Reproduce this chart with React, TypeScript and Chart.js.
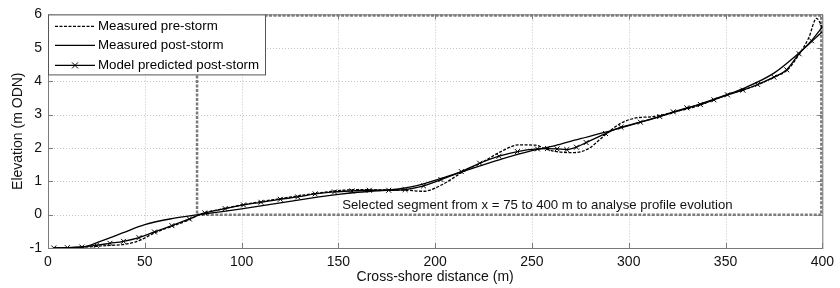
import React, { useEffect, useRef } from "react";
import { Chart, registerables } from "chart.js";

Chart.register(...registerables);

const seriesLabels = ["Measured pre-storm", "Measured post-storm", "Model predicted post-storm"];

const preX = [3, 15, 25, 32, 38.5, 47, 55, 64, 73, 78, 90, 100, 110, 120, 130, 140, 150, 160, 170, 185, 194, 204, 214, 224.6, 235, 243, 252, 257, 265, 272, 279, 288, 296, 303, 313, 323.6, 334, 344, 351, 359, 367, 375, 382, 388, 393, 397, 400];
const preY = [-1.0, -0.99, -0.95, -0.92, -0.9, -0.78, -0.55, -0.35, -0.15, 0.0, 0.17, 0.29, 0.39, 0.48, 0.57, 0.65, 0.72, 0.75, 0.74, 0.73, 0.70, 0.91, 1.27, 1.58, 1.92, 2.09, 2.08, 1.97, 1.87, 1.86, 1.97, 2.4, 2.74, 2.89, 2.94, 3.08, 3.23, 3.44, 3.59, 3.73, 3.90, 4.12, 4.34, 4.8, 5.3, 5.88, 5.62];

const postX = [3, 18, 27, 38.5, 50, 64, 78, 90, 100, 110, 120, 130, 140, 150, 160, 170, 180, 190, 204, 220, 235, 250, 262, 272, 288, 300, 313, 334, 350, 360, 375, 388.5, 400];
const postY = [-1.0, -0.97, -0.8, -0.55, -0.30, -0.12, 0.0, 0.09, 0.17, 0.26, 0.35, 0.44, 0.53, 0.61, 0.67, 0.71, 0.76, 0.86, 1.10, 1.40, 1.68, 1.92, 2.07, 2.23, 2.47, 2.67, 2.89, 3.26, 3.58, 3.8, 4.24, 4.87, 5.48];

const modelX = [3, 10, 17.5, 25, 32, 39, 47, 55, 64, 73, 81, 91.5, 101, 110, 120, 129, 138, 148, 157, 166, 176, 184.5, 194, 203, 213.5, 223, 233, 242.5, 252.8, 258, 263, 268, 273, 278, 288, 296, 306, 316, 323, 330, 337, 344, 351, 359, 366.6, 375, 381.6, 388, 394.4, 400];
const modelY = [-1.0, -0.99, -0.97, -0.92, -0.86, -0.80, -0.69, -0.52, -0.33, -0.13, 0.05, 0.18, 0.29, 0.37, 0.46, 0.53, 0.62, 0.68, 0.71, 0.73, 0.73, 0.75, 0.86, 1.05, 1.29, 1.54, 1.75, 1.89, 1.97, 1.98, 1.97, 1.95, 2.02, 2.16, 2.43, 2.62, 2.77, 2.94, 3.08, 3.2, 3.30, 3.44, 3.59, 3.73, 3.90, 4.12, 4.34, 4.82, 5.21, 5.62];

const xTicks = [0, 50, 100, 150, 200, 250, 300, 350, 400];
const yTicks = [-1, 0, 1, 2, 3, 4, 5, 6];

const segmentBox = { x0: 77, x1: 400, y0: 0, y1: 6 };
const segmentText = "Selected segment from x = 75 to 400 m to analyse profile evolution";
const segmentTextPos = { x: 152, y: 0.27 };

const FONT = "Liberation Sans, Arial, sans-serif";

const toPts = (xs: number[], ys: number[]) => xs.map((x, i) => ({ x, y: ys[i] }));

export default function App() {
  const ref = useRef<HTMLCanvasElement | null>(null);
  useEffect(() => {
    document.body.style.margin = "0";
    const canvas = ref.current;
    if (!canvas) return;

    const decor = {
      id: "decor",
      beforeDatasetsDraw(chart: any) {
        const { ctx, chartArea: a, scales } = chart;
        const xs = scales.x, ys = scales.y;
        ctx.save();
        ctx.strokeStyle = "#c4c4c4";
        ctx.lineWidth = 1;
        ctx.setLineDash([1, 2]);
        xTicks.forEach((t) => {
          const px = Math.round(xs.getPixelForValue(t)) + 0.5;
          ctx.beginPath(); ctx.moveTo(px, a.top); ctx.lineTo(px, a.bottom); ctx.stroke();
        });
        yTicks.forEach((t) => {
          const py = Math.round(ys.getPixelForValue(t)) + 0.5;
          ctx.beginPath(); ctx.moveTo(a.left, py); ctx.lineTo(a.right, py); ctx.stroke();
        });
        ctx.setLineDash([]);
        ctx.strokeStyle = "#7a7a7a";
        ctx.lineWidth = 1;
        ctx.strokeRect(a.left + 0.5, a.top + 0.5, a.right - a.left, a.bottom - a.top);
        xTicks.forEach((t) => {
          const px = Math.round(xs.getPixelForValue(t)) + 0.5;
          ctx.beginPath(); ctx.moveTo(px, a.bottom); ctx.lineTo(px, a.bottom - 5); ctx.stroke();
          ctx.beginPath(); ctx.moveTo(px, a.top); ctx.lineTo(px, a.top + 5); ctx.stroke();
        });
        yTicks.forEach((t) => {
          const py = Math.round(ys.getPixelForValue(t)) + 0.5;
          ctx.beginPath(); ctx.moveTo(a.left, py); ctx.lineTo(a.left + 5, py); ctx.stroke();
          ctx.beginPath(); ctx.moveTo(a.right, py); ctx.lineTo(a.right - 5, py); ctx.stroke();
        });
        ctx.strokeStyle = "#7c7c7c";
        ctx.lineWidth = 2.5;
        ctx.setLineDash([3, 1.5]);
        const rx0 = xs.getPixelForValue(segmentBox.x0);
        const rx1 = xs.getPixelForValue(segmentBox.x1) - 1;
        const ry0 = ys.getPixelForValue(segmentBox.y1) + 1;
        const ry1 = ys.getPixelForValue(segmentBox.y0);
        ctx.strokeRect(rx0, ry0, rx1 - rx0, ry1 - ry0);
        ctx.setLineDash([]);
        ctx.fillStyle = "#111";
        ctx.font = `13.2px ${FONT}`;
        ctx.textBaseline = "middle";
        ctx.textAlign = "left";
        ctx.fillText(segmentText, xs.getPixelForValue(segmentTextPos.x), ys.getPixelForValue(segmentTextPos.y));
        ctx.restore();
      },
      afterDraw(chart: any) {
        const { ctx, chartArea: a } = chart;
        ctx.save();
        const lx = a.left, ly = a.top, lw = 217, lh = 60;
        ctx.fillStyle = "#fff";
        ctx.fillRect(lx, ly, lw, lh);
        ctx.strokeStyle = "#555";
        ctx.lineWidth = 1;
        ctx.strokeRect(lx + 0.5, ly + 0.5, lw, lh);
        ctx.font = `13.3px ${FONT}`;
        ctx.textBaseline = "middle";
        ctx.fillStyle = "#000";
        const rows = [ly + 12, ly + 31, ly + 51];
        rows.forEach((ry, i) => {
          ctx.strokeStyle = "#000";
          ctx.lineWidth = 1.2;
          ctx.setLineDash(i === 0 ? [3, 1.5] : []);
          ctx.beginPath(); ctx.moveTo(lx + 7, ry); ctx.lineTo(lx + 47, ry); ctx.stroke();
          ctx.setLineDash([]);
          if (i === 2) {
            const cx = lx + 27, r = 3;
            ctx.lineWidth = 1;
            ctx.beginPath();
            ctx.moveTo(cx - r, ry - r); ctx.lineTo(cx + r, ry + r);
            ctx.moveTo(cx - r, ry + r); ctx.lineTo(cx + r, ry - r);
            ctx.stroke();
          }
          ctx.fillText(seriesLabels[i], lx + 50, ry);
        });
        ctx.restore();
      },
    };

    const chart = new Chart(canvas, {
      type: "line",
      data: {
        datasets: [
          {
            label: seriesLabels[0],
            data: toPts(preX, preY),
            borderColor: "#000",
            borderWidth: 1.3,
            borderDash: [3, 1.5],
            pointRadius: 0,
            cubicInterpolationMode: "monotone",
          },
          {
            label: seriesLabels[1],
            data: toPts(postX, postY),
            borderColor: "#000",
            borderWidth: 1.3,
            pointRadius: 0,
            cubicInterpolationMode: "monotone",
          },
          {
            label: seriesLabels[2],
            data: toPts(modelX, modelY),
            borderColor: "#000",
            borderWidth: 1.3,
            pointRadius: 3.5,
            pointStyle: "crossRot",
            pointBorderColor: "#000",
            pointBorderWidth: 1,
            cubicInterpolationMode: "monotone",
          },
        ],
      },
      options: {
        animation: false,
        responsive: false,
        maintainAspectRatio: false,
        parsing: false as any,
        layout: { padding: { top: 11, right: 11, left: 0, bottom: 0 } },
        plugins: { legend: { display: false }, tooltip: { enabled: false } },
        scales: {
          x: {
            type: "linear",
            min: 0,
            max: 400,
            afterBuildTicks: (s: any) => { s.ticks = xTicks.map((v) => ({ value: v })); },
            afterFit: (s: any) => { s.height = 40; },
            grid: { display: false, drawTicks: false, tickLength: 0 },
            border: { display: false },
            ticks: { color: "#111", font: { family: FONT, size: 14 }, padding: 6, maxRotation: 0 },
            title: { display: true, text: "Cross-shore distance (m)", color: "#111", font: { family: FONT, size: 14 }, padding: { top: 0, bottom: 2 } },
          },
          y: {
            type: "linear",
            min: -1,
            max: 6,
            afterBuildTicks: (s: any) => { s.ticks = yTicks.map((v) => ({ value: v })); },
            afterFit: (s: any) => { s.width = 48; },
            grid: { display: false, drawTicks: false, tickLength: 0 },
            border: { display: false },
            ticks: { color: "#111", font: { family: FONT, size: 14 }, padding: 6 },
            title: { display: true, text: "Elevation (m ODN)", color: "#111", font: { family: FONT, size: 14 }, padding: { top: 10, bottom: 0 } },
          },
        },
      },
      plugins: [decor],
    } as any);
    return () => chart.destroy();
  }, []);

  return (
    <div style={{ position: "absolute", left: 0, top: 0, width: 840, height: 288 }}>
      <canvas ref={ref} width={840} height={288} style={{ width: 840, height: 288 }} />
    </div>
  );
}
